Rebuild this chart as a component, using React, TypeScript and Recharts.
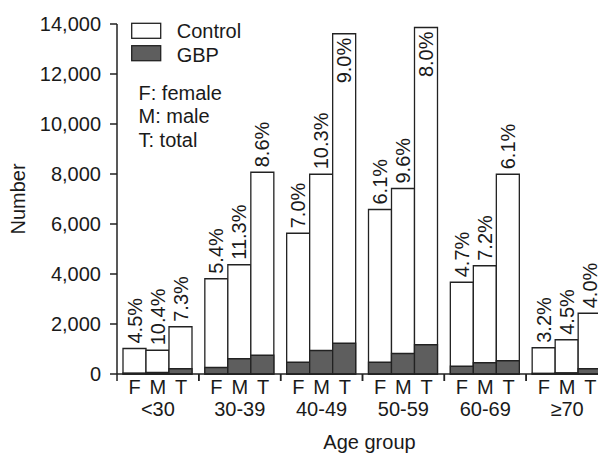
import { BarChart, Bar, XAxis, YAxis, LabelList, Legend } from 'recharts'

const groups = ['<30', '30-39', '40-49', '50-59', '60-69', '≥70']
const sexes = ['F', 'M', 'T']

const controlF = [1020, 3810, 5630, 6580, 3670, 1050]
const controlM = [950, 4370, 7990, 7420, 4330, 1370]
const controlT = [1890, 8070, 13610, 13860, 7990, 2430]

const gbpF = [40, 260, 470, 470, 310, 30]
const gbpM = [60, 610, 940, 820, 450, 50]
const gbpT = [210, 750, 1230, 1170, 530, 210]

const pctF = ['4.5%', '5.4%', '7.0%', '6.1%', '4.7%', '3.2%']
const pctM = ['10.4%', '11.3%', '10.3%', '9.6%', '7.2%', '4.5%']
const pctT = ['7.3%', '8.6%', '9.0%', '8.0%', '6.1%', '4.0%']

const yTicks = [0, 2000, 4000, 6000, 8000, 10000, 12000, 14000]

const data = groups.map((g, i) => ({
  group: g,
  cF: controlF[i], cM: controlM[i], cT: controlT[i],
  gF: gbpF[i], gM: gbpM[i], gT: gbpT[i],
  pF: pctF[i], pM: pctM[i], pT: pctT[i],
}))

const FONT = '"Liberation Sans", Arial, sans-serif'
const INK = '#1a1a1a'
const EDGE = '#222'
const GREY = '#5e5e5e'

// labels go above the bar, or just inside it when the bar reaches the top
function PctLabel(props: any) {
  const { x, y, width, value } = props
  const cx = x + width / 2
  const inside = y < 60
  const at = inside ? y + 4 : y - 5
  return (
    <text x={cx} y={at} transform={`rotate(-90, ${cx}, ${at})`} textAnchor={inside ? 'end' : 'start'}
      dominantBaseline="central" fontSize={20} fontFamily={FONT} fill={INK}>
      {value}
    </text>
  )
}

function GroupTick(props: any) {
  const { x, y, payload } = props
  const step = 23.3
  const half = 40.9
  return (
    <g>
      <line x1={x - half} y1={y} x2={x - half} y2={y + 7} stroke={EDGE} strokeWidth={1.5} />
      <line x1={x + half} y1={y} x2={x + half} y2={y + 7} stroke={EDGE} strokeWidth={1.5} />
      {sexes.map((s, i) => (
        <text key={s} x={x + (i - 1) * step} y={y + 20} textAnchor="middle" fontSize={20} fontFamily={FONT} fill={INK}>
          {s}
        </text>
      ))}
      <text x={x} y={y + 42} textAnchor="middle" fontSize={20} fontFamily={FONT} fill={INK}>
        {payload.value}
      </text>
    </g>
  )
}

function LegendBox() {
  return (
    <svg width={300} height={150} style={{ overflow: 'visible' }}>
      <rect x={123.7} y={15.3} width={29} height={15} fill="#fff" stroke={EDGE} strokeWidth={1.3} />
      <text x={168.7} y={30} fontSize={20} fontFamily={FONT} fill={INK}>Control</text>
      <rect x={123.7} y={37.7} width={29} height={15} fill={GREY} stroke={EDGE} strokeWidth={1.3} />
      <text x={168.7} y={53.5} fontSize={20} fontFamily={FONT} fill={INK}>GBP</text>
      <text x={130.5} y={92} fontSize={20} fontFamily={FONT} fill={INK}>F: female</text>
      <text x={130.5} y={115.3} fontSize={20} fontFamily={FONT} fill={INK}>M: male</text>
      <text x={130.5} y={138.7} fontSize={20} fontFamily={FONT} fill={INK}>T: total</text>
    </svg>
  )
}

export default function App() {
  return (
    <div style={{ width: 598, height: 446, overflow: 'hidden', background: '#fff' }}>
      <BarChart width={620} height={446} data={data} margin={{ top: 16, right: 20, bottom: 0, left: 0 }}
        barCategoryGap={6} barGap={0}>
        <XAxis xAxisId="c" dataKey="group" height={80} tickLine={false} tickSize={0} tickMargin={0}
          axisLine={{ stroke: EDGE, strokeWidth: 1.5 }} tick={<GroupTick />} interval={0}
          label={{ value: 'Age group', position: 'insideBottom', offset: 5, dx: 7, fontSize: 20, fontFamily: FONT, fill: INK }} />
        <XAxis xAxisId="g" dataKey="group" hide />
        <YAxis width={109} domain={[0, 14000]} ticks={yTicks} interval={0} tickSize={7} tickMargin={9}
          axisLine={{ stroke: EDGE, strokeWidth: 1.5 }} tickLine={{ stroke: EDGE, strokeWidth: 1.5 }}
          tick={{ fontSize: 20, fontFamily: FONT, fill: INK }}
          tickFormatter={(v: number) => v.toLocaleString('en-US')}
          label={{ value: 'Number', angle: -90, position: 'insideLeft', offset: 10, fontSize: 20, fontFamily: FONT, fill: INK, style: { textAnchor: 'middle' } }} />
        <Legend verticalAlign="middle" align="center" layout="horizontal" content={<LegendBox />}
          wrapperStyle={{ top: 0, left: 0, width: 300, height: 150 }} />
        <Bar xAxisId="c" dataKey="cF" fill="#fff" stroke={EDGE} strokeWidth={1.3} isAnimationActive={false} legendType="none">
          <LabelList dataKey="pF" content={<PctLabel />} />
        </Bar>
        <Bar xAxisId="c" dataKey="cM" fill="#fff" stroke={EDGE} strokeWidth={1.3} isAnimationActive={false} legendType="none">
          <LabelList dataKey="pM" content={<PctLabel />} />
        </Bar>
        <Bar xAxisId="c" dataKey="cT" fill="#fff" stroke={EDGE} strokeWidth={1.3} isAnimationActive={false} legendType="none">
          <LabelList dataKey="pT" content={<PctLabel />} />
        </Bar>
        <Bar xAxisId="g" dataKey="gF" fill={GREY} stroke={EDGE} strokeWidth={1.3} isAnimationActive={false} legendType="none" />
        <Bar xAxisId="g" dataKey="gM" fill={GREY} stroke={EDGE} strokeWidth={1.3} isAnimationActive={false} legendType="none" />
        <Bar xAxisId="g" dataKey="gT" fill={GREY} stroke={EDGE} strokeWidth={1.3} isAnimationActive={false} legendType="none" />
      </BarChart>
    </div>
  )
}
